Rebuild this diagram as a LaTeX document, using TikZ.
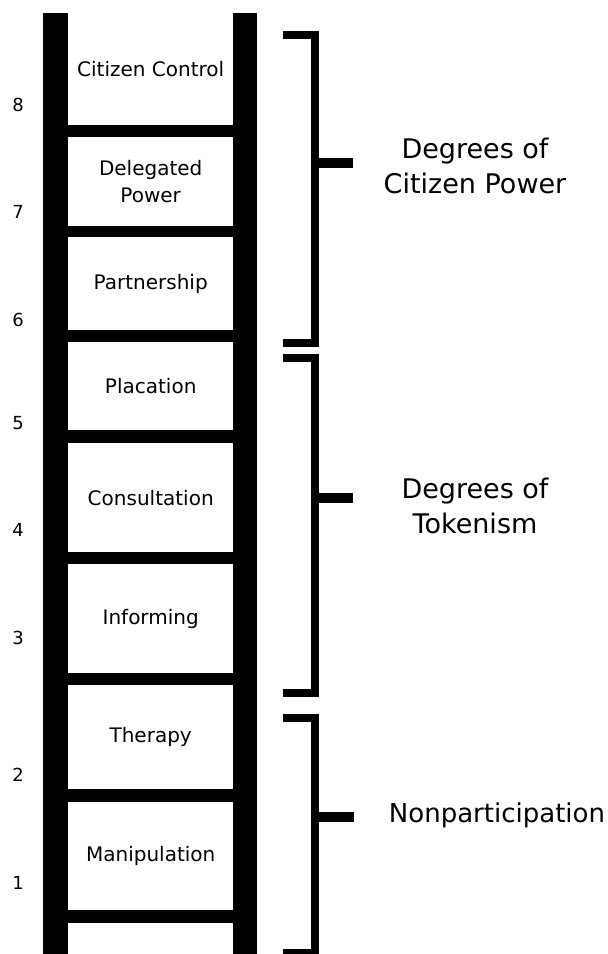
\documentclass[tikz,border=0pt]{standalone}
\usepackage{fontspec}
\setmainfont{DejaVu Sans}
\usepackage{tikz}
\usetikzlibrary{positioning,calc}

\tikzset{
  rung/.style={fill=white, inner sep=0pt, minimum width=165pt, anchor=north west, align=center, font=\fontsize{20}{27}\selectfont},
  level/.style={font=\fontsize{18}{20}\selectfont},
  bracket/.style={line width=8pt},
  tick/.style={line width=10pt},
  group/.style={align=center, font=\fontsize{27}{35}\selectfont}
}

\begin{document}
\begin{tikzpicture}[x=1pt,y=-1pt]
    % page frame
    \useasboundingbox (0,0) rectangle (608,954);

    % ladder body: rails and rungs in black
    \fill[black] (43,13) rectangle (257,954);

    % white gaps between the rungs
    \node [rung, minimum height=112pt] (control) at (68,13) {Citizen Control};
    \node [rung, minimum height=89pt] (delegated) at (68,137) {Delegated\\Power};
    \node [rung, minimum height=93pt] (partner) at (68,237) {Partnership};
    \node [rung, minimum height=88pt] (placation) at (68,342) {Placation};
    \node [rung, minimum height=109pt] (consult) at (68,443) {Consultation};
    \node [rung, minimum height=109pt] (inform) at (68,564) {Informing};
    \node [rung, minimum height=104pt] (therapy) at (68,685) {Therapy};
    \node [rung, minimum height=108pt] (manip) at (68,802) {Manipulation};
    \node [rung, minimum height=31pt] (foot) at (68,923) {};

    % step numbers on the left
    \node [level] (n8) at (18,105) {8};
    \node [level] (n7) at (18,212) {7};
    \node [level] (n6) at (18,320) {6};
    \node [level] (n5) at (18,423) {5};
    \node [level] (n4) at (18,530) {4};
    \node [level] (n3) at (18,638) {3};
    \node [level] (n2) at (18,775) {2};
    \node [level] (n1) at (18,883) {1};

    % bracket: citizen power
    \coordinate (powtop) at (283,34.5);
    \coordinate (powbot) at (283,343);
    \coordinate (powmid) at (314.5,163);
    \coordinate (powtip) at (353,163);
    \draw [bracket] (powtop) -- ++(31.5,0) |- (powbot);
    \draw [tick] (powmid) -- (powtip);
    \node [group] (power) at (475,165.5) {Degrees of\\Citizen Power};

    % bracket: tokenism
    \coordinate (toktop) at (283,358);
    \coordinate (tokbot) at (283,693);
    \coordinate (tokmid) at (314.5,498);
    \coordinate (toktip) at (353,498);
    \draw [bracket] (toktop) -- ++(31.5,0) |- (tokbot);
    \draw [tick] (tokmid) -- (toktip);
    \node [group] (token) at (475,505.5) {Degrees of\\Tokenism};

    % bracket: nonparticipation
    \coordinate (nontop) at (283,717.5);
    \coordinate (nonbot) at (283,952.5);
    \coordinate (nonmid) at (314.5,816.5);
    \coordinate (nontip) at (354,816.5);
    \draw [bracket] (nontop) -- ++(31.5,0) |- (nonbot);
    \draw [tick] (nonmid) -- (nontip);
    \node [group, font=\fontsize{26}{35}\selectfont] (nonpart) at (497,815) {Nonparticipation};
\end{tikzpicture}
\end{document}
